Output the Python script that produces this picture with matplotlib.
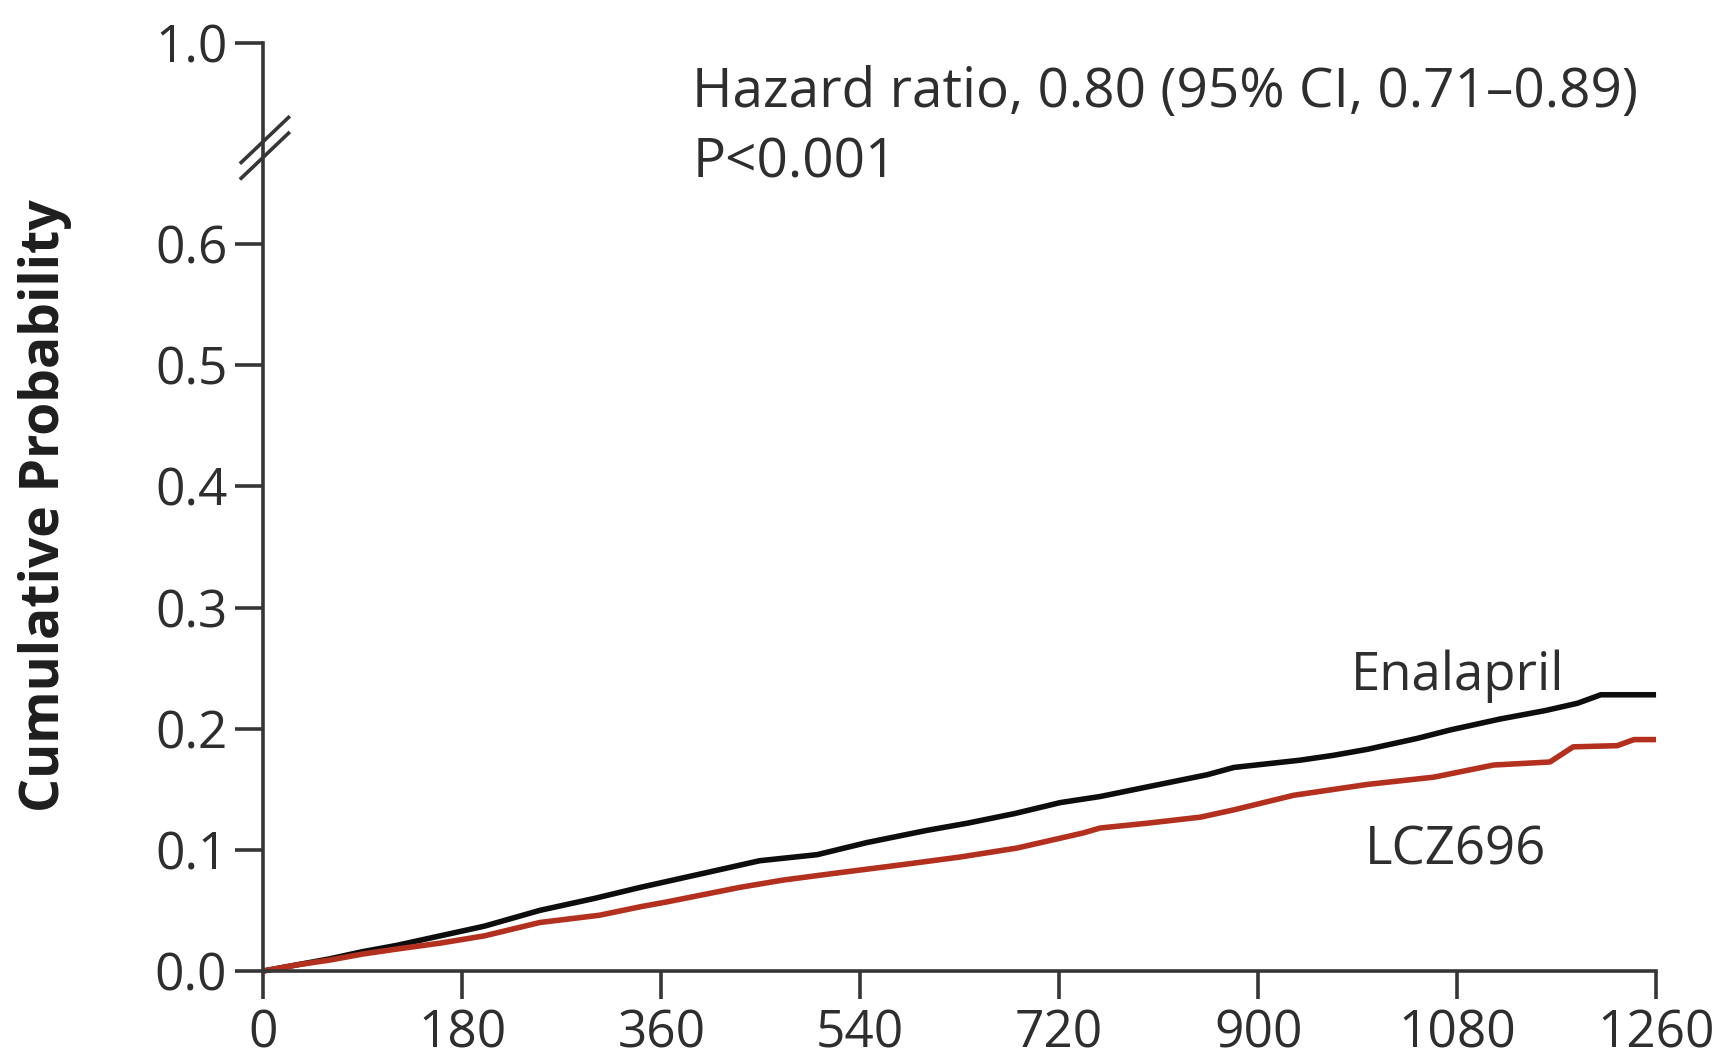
import numpy as np
import matplotlib.pyplot as plt
from matplotlib.transforms import blended_transform_factory

# Kaplan-Meier curves (days, cumulative probability)
days_enalapril = [0, 30, 60, 90, 120, 160, 200, 250, 300, 341, 400, 449, 501, 546,
                  600, 637, 680, 721, 757, 800, 854, 878, 938, 968, 999, 1044, 1074,
                  1119, 1160, 1189, 1210, 1260]
prob_enalapril = [0.0, 0.005, 0.010, 0.016, 0.021, 0.029, 0.037, 0.050, 0.060, 0.069,
                  0.081, 0.091, 0.096, 0.106, 0.116, 0.122, 0.130, 0.139, 0.144, 0.152,
                  0.162, 0.168, 0.174, 0.178, 0.183, 0.192, 0.199, 0.208, 0.215, 0.221,
                  0.228, 0.228]

days_lcz696 = [0, 30, 60, 90, 120, 160, 200, 250, 304, 341, 365, 431, 470, 520, 576,
               630, 682, 742, 757, 800, 848, 878, 932, 999, 1059, 1113, 1164, 1185,
               1225, 1240, 1260]
prob_lcz696 = [0.0, 0.005, 0.009, 0.014, 0.018, 0.023, 0.029, 0.040, 0.046, 0.053,
               0.057, 0.069, 0.075, 0.081, 0.0875, 0.094, 0.1015, 0.114, 0.118, 0.122,
               0.127, 0.133, 0.145, 0.154, 0.160, 0.170, 0.1725, 0.185, 0.186, 0.191,
               0.191]

x_ticks = [0, 180, 360, 540, 720, 900, 1080, 1260]
y_ticks = [0.0, 0.1, 0.2, 0.3, 0.4, 0.5, 0.6]
y_top_label = "1.0"

# broken axis: 1.0 is drawn just above the break
BREAK_POS = 0.68
ONE_POS = 0.766

txt_color = "#2e2e2e"
axis_color = "#363636"
plt.rcParams['font.family'] = ['Open Sans', 'DejaVu Sans']

fig = plt.figure(figsize=(17.22, 10.60), dpi=100)
ax = fig.add_axes([0.153, 0.084, 0.8087, 0.8754])

ax.plot(days_enalapril, prob_enalapril, color="#0d0d0d", lw=4, clip_on=False,
        solid_capstyle='butt', solid_joinstyle='round')
ax.plot(days_lcz696, prob_lcz696, color="#b3301f", lw=4, clip_on=False,
        solid_capstyle='butt', solid_joinstyle='round')

ax.set_xlim(0, 1260)
ax.set_ylim(0, ONE_POS)
ax.set_xticks(x_ticks)
ax.set_xticklabels([str(t) for t in x_ticks])
ax.set_yticks(y_ticks + [ONE_POS])
ax.set_yticklabels([f"{t:.1f}" for t in y_ticks] + [y_top_label])

for side in ['top', 'right']:
    ax.spines[side].set_visible(False)
for side in ['left', 'bottom']:
    ax.spines[side].set_linewidth(2.6)
    ax.spines[side].set_color(axis_color)

ax.tick_params(axis='both', direction='out', length=20, width=2.6, color=axis_color,
               labelsize=37, labelcolor=txt_color)
ax.tick_params(axis='x', pad=7)
ax.tick_params(axis='y', pad=6)

# break marks on the y axis
bt = blended_transform_factory(ax.transAxes, ax.transData)
for c in [BREAK_POS + 0.006, BREAK_POS - 0.007]:
    ax.plot([-0.016, 0.018], [c - 0.0186, c + 0.0186], transform=bt, color=axis_color,
            lw=2.6, clip_on=False)

ax.text(388, 0.713, "Hazard ratio, 0.80 (95% CI, 0.71\u20130.89)", fontsize=39.5,
        color=txt_color, va='baseline', ha='left')
ax.text(388, 0.655, "P<0.001", fontsize=39.5, color=txt_color, va='baseline', ha='left')

ax.text(984, 0.232, "Enalapril", fontsize=38, color=txt_color, va='baseline')
ax.text(997, 0.088, "LCZ696", fontsize=38, color=txt_color, va='baseline')

fig.text(0.026, 0.523, "Cumulative Probability", rotation=90, ha='center', va='center',
         fontsize=38.5, fontweight='bold', color="#1e1e1e")

fig.savefig("out.png", dpi=100, facecolor='white')
